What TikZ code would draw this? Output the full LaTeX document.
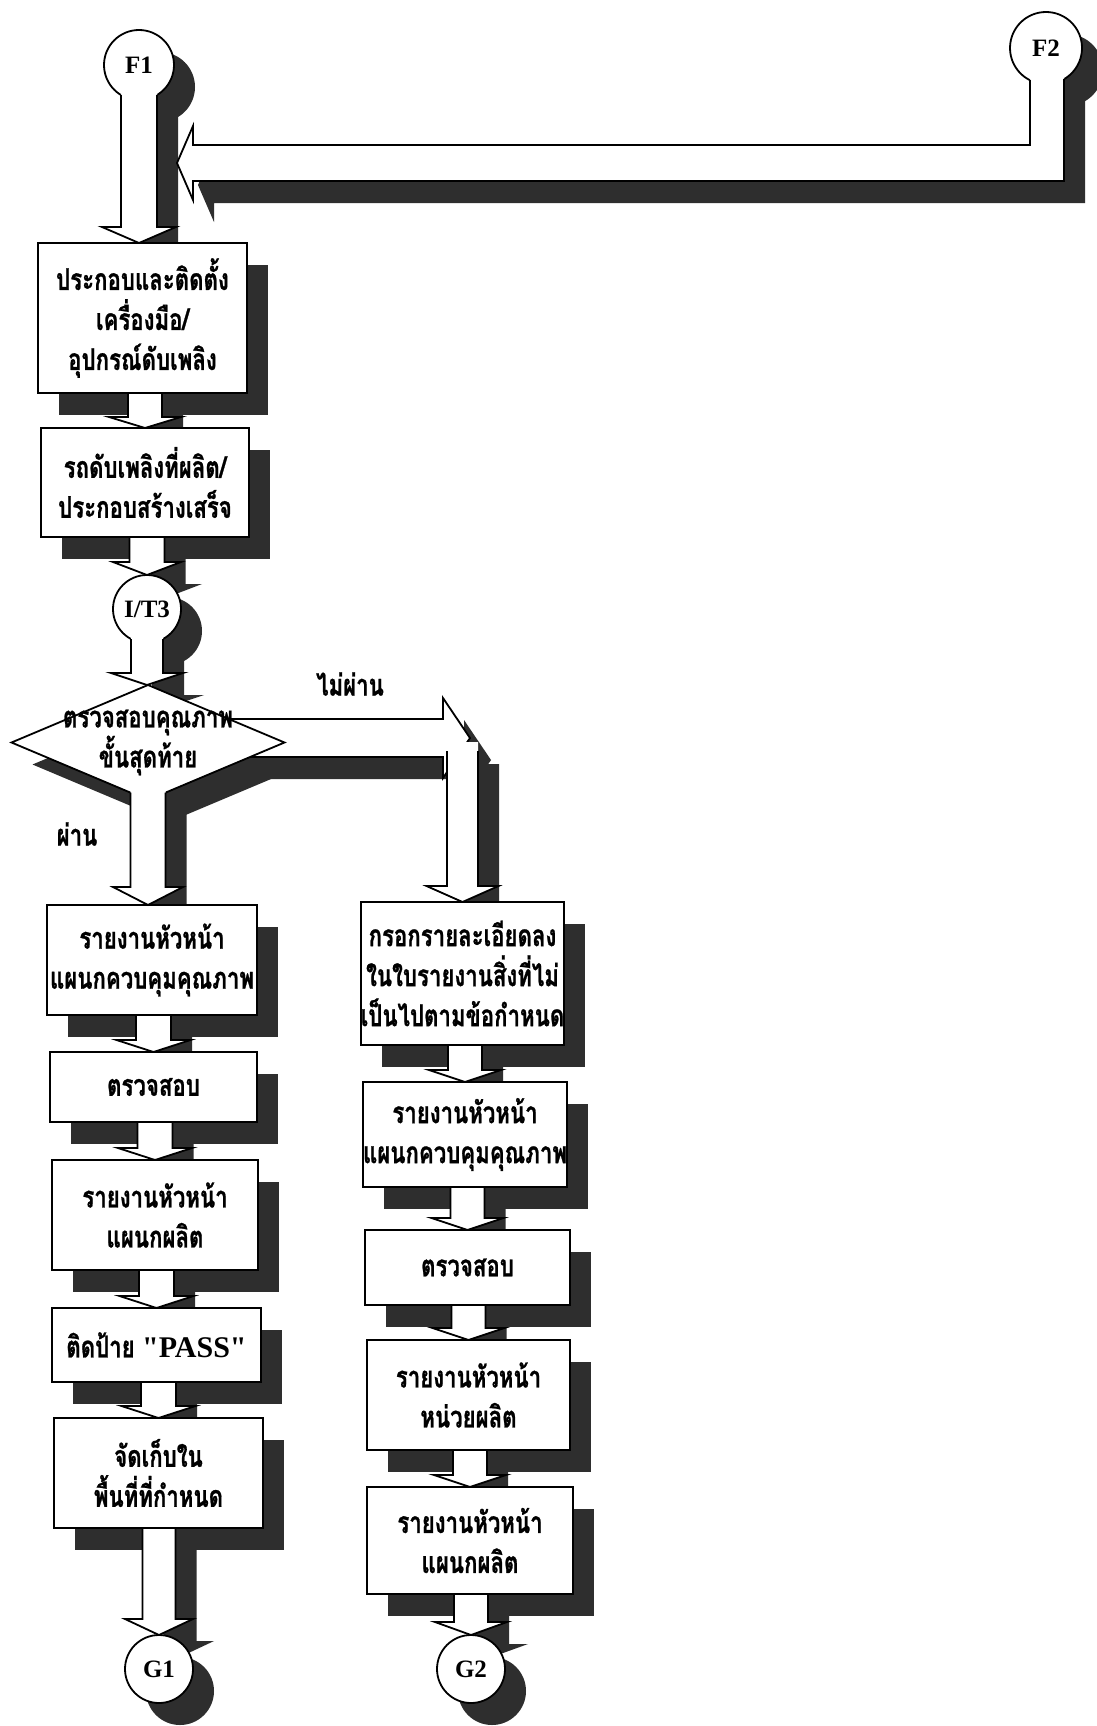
\documentclass[tikz,border=0pt]{standalone}
\usepackage{fontspec}
\usetikzlibrary{shapes.geometric,calc}
\newfontfamily\thaifont[Script=Thai,FakeStretch=0.74,FakeBold=0.8]{Loma}
\newfontfamily\latinfont{Liberation Serif}
\definecolor{shadowc}{RGB}{46,46,46}
\pgfdeclarelayer{shadow}
\pgfdeclarelayer{links}
\pgfdeclarelayer{over}
\pgfsetlayers{shadow,links,main,over}

\tikzset{
  flowline/.style={line width=1.8pt, line join=miter},
  procbox/.style={draw, fill=white, line width=1.8pt, inner sep=0pt, outer sep=0pt,
    align=center, font=\thaifont\bfseries\fontsize{30}{40}\selectfont},
  connector/.style={circle, draw, fill=white, line width=1.8pt, inner sep=0pt, outer sep=0pt,
    minimum size=70pt, font=\latinfont\bfseries\fontsize{25}{28}\selectfont},
  decision/.style={diamond, draw, fill=white, line width=1.8pt, inner sep=0pt, outer sep=0pt,
    minimum width=273pt, minimum height=115pt},
  plaintext/.style={inner sep=0pt, align=center, font=\thaifont\bfseries\fontsize{30}{40}\selectfont},
}

% drop shadow helpers (shadow offset 21 right, 22 down)
\newcommand\shadowfill[1]{%
  \begin{pgfonlayer}{shadow}
    \begin{scope}[transform canvas={shift={(21pt,-22pt)}}]
      \fill[shadowc] #1;
    \end{scope}
  \end{pgfonlayer}}

% process box given by its corners
\newcommand\procbox[6]{%
  \node[procbox, minimum width={#4-#2}, minimum height={#5-#3}] (#1) at ({(#2+#4)/2},{(#3+#5)/2}) {#6};
  \shadowfill{(#1.north west) rectangle (#1.south east)}}

% connector circle
\newcommand\conncircle[4]{%
  \node[connector, minimum size={2*#4}] (#1) at (#2) {#3};
  \shadowfill{(#1.center) circle (#4pt)}}

% outline of a downward block arrow: start, tip, shaft half width, head half width, head length
\newcommand\vpath[5]{let \p1=(#1), \p2=(#2) in
  (\x2-#3pt,\y1) -- (\x2-#3pt,\y2+#5pt) -- (\x2-#4pt,\y2+#5pt) -- (\x2,\y2)
  -- (\x2+#4pt,\y2+#5pt) -- (\x2+#3pt,\y2+#5pt) -- (\x2+#3pt,\y1)}

% downward block arrow: layer, fill start, line start, tip, shaft hw, head hw, head length
\newcommand\vlink[7]{%
  \shadowfill{\vpath{#2}{#4}{#5}{#6}{#7} -- cycle}
  \begin{pgfonlayer}{#1}
    \fill[white] \vpath{#2}{#4}{#5}{#6}{#7} -- cycle;
    \draw[flowline] \vpath{#3}{#4}{#5}{#6}{#7};
  \end{pgfonlayer}}

\begin{document}
\begin{tikzpicture}[x=1pt,y=-1pt]
\useasboundingbox (0,0) rectangle (1097,1726);
\begin{pgfonlayer}{shadow}
  \fill[white] (0,0) rectangle (1097,1726);
\end{pgfonlayer}

% ---------- nodes ----------
\conncircle{F1}{139,65}{F1}{35}
\conncircle{F2}{1046,48}{F2}{36}
\procbox{b1}{38}{243}{247}{393}{ประกอบและติดตั้ง\\เครื่องมือ/\\อุปกรณ์ดับเพลิง}
\procbox{b2}{41}{428}{249}{537}{รถดับเพลิงที่ผลิต/\\ประกอบสร้างเสร็จ}
\conncircle{IT3}{147,609}{I/T3}{34}

\node[decision] (dia) at (148,742.5) {};
\shadowfill{(dia.north) -- (dia.east) -- (dia.south) -- (dia.west) -- cycle}
\node[plaintext] (diatxt) at (dia.center) {ตรวจสอบคุณภาพ\\ขั้นสุดท้าย};

\node[plaintext] (lblno) at (350,684) {ไม่ผ่าน};
\node[plaintext] (lblyes) at (77,834) {ผ่าน};

\procbox{L1}{47}{905}{257}{1015}{รายงานหัวหน้า\\แผนกควบคุมคุณภาพ}
\procbox{L2}{50}{1052}{257}{1122}{ตรวจสอบ}
\procbox{L3}{52}{1160}{258}{1270}{รายงานหัวหน้า\\แผนกผลิต}
\procbox{L4}{52}{1308}{261}{1382}{ติดป้าย {\latinfont "PASS"}}
\procbox{L5}{54}{1418}{263}{1528}{จัดเก็บใน\\พื้นที่ที่กำหนด}
\conncircle{G1}{159,1669}{G1}{34}

\procbox{R1}{362}{902}{563}{1045}{กรอกรายละเอียดลง\\ในใบรายงานสิ่งที่ไม่\\เป็นไปตามข้อกำหนด}
\procbox{R2}{363}{1082}{567}{1187}{รายงานหัวหน้า\\แผนกควบคุมคุณภาพ}
\procbox{R3}{365}{1230}{570}{1305}{ตรวจสอบ}
\procbox{R4}{367}{1340}{570}{1450}{รายงานหัวหน้า\\หน่วยผลิต}
\procbox{R5}{367}{1487}{573}{1594}{รายงานหัวหน้า\\แผนกผลิต}
\conncircle{G2}{471,1669}{G2}{34}

% ---------- connector helper points ----------
\coordinate (F1f) at ([yshift=-24pt]F1.center);
\coordinate (F1l) at ([yshift=-30pt]F1.center);
\coordinate (F1in) at (177,163);
\coordinate (IT3f) at ([yshift=-24pt]IT3.center);
\coordinate (IT3l) at ([yshift=-30pt]IT3.center);
\coordinate (diaf) at ([yshift=12pt]dia.south);
\coordinate (dial) at ([yshift=7.3pt]dia.south);
\coordinate (nopass) at (470,738);
\coordinate (nopassf) at ([yshift=-4pt]nopass);
\coordinate (nopassl) at ([yshift=-13pt]nopass);

% ---------- F2 -> F1 (bent block arrow) ----------
\shadowfill{let \p1=(F2.center), \p2=(F1in) in
  (\x1-16pt,\y1-24pt) -- (\x1-16pt,\y2+18pt) -- (\x2+16pt,\y2+18pt) -- (\x2+16pt,\y2+37pt)
  -- (\p2) -- (\x2+16pt,\y2-37pt) -- (\x2+16pt,\y2-18pt) -- (\x1+18pt,\y2-18pt)
  -- (\x1+18pt,\y1-24pt) -- cycle}
\begin{pgfonlayer}{over}
  \fill[white] let \p1=(F2.center), \p2=(F1in) in
    (\x1-16pt,\y1-24pt) -- (\x1-16pt,\y2+18pt) -- (\x2+16pt,\y2+18pt) -- (\x2+16pt,\y2+37pt)
    -- (\p2) -- (\x2+16pt,\y2-37pt) -- (\x2+16pt,\y2-18pt) -- (\x1+18pt,\y2-18pt)
    -- (\x1+18pt,\y1-24pt) -- cycle;
  \draw[flowline] let \p1=(F2.center), \p2=(F1in) in
    (\x1-16pt,\y1-32pt) -- (\x1-16pt,\y2+18pt) -- (\x2+16pt,\y2+18pt) -- (\x2+16pt,\y2+37pt)
    -- (\p2) -- (\x2+16pt,\y2-37pt) -- (\x2+16pt,\y2-18pt) -- (\x1+18pt,\y2-18pt)
    -- (\x1+18pt,\y1-31pt);
\end{pgfonlayer}

% ---------- main column ----------
\vlink{over}{F1f}{F1l}{F1.center |- b1.north}{18}{37}{16}
\vlink{links}{b1.south}{b1.south}{b2.north}{17}{36}{11}
\vlink{links}{b2.south}{b2.south}{IT3.north}{17.5}{34}{13}
\vlink{over}{IT3f}{IT3l}{IT3.center |- dia.north}{16}{36}{12}

% not passed: right, then down
\shadowfill{let \p1=(dia.center), \p2=(nopass) in
  (\x1,\y2+19pt) -- (\x2-27pt,\y2+19pt) -- (\x2-27pt,\y2+40pt) -- (\p2)
  -- (\x2-27pt,\y2-40pt) -- (\x2-27pt,\y2-19pt) -- (\x1,\y2-19pt) -- cycle}
\begin{pgfonlayer}{links}
  \fill[white] let \p1=(dia.center), \p2=(nopass) in
    (\x1,\y2+19pt) -- (\x2-27pt,\y2+19pt) -- (\x2-27pt,\y2+40pt) -- (\p2)
    -- (\x2-27pt,\y2-40pt) -- (\x2-27pt,\y2-19pt) -- (\x1,\y2-19pt) -- cycle;
  \draw[flowline] let \p1=(dia.center), \p2=(nopass) in
    (\x1,\y2+19pt) -- (\x2-27pt,\y2+19pt) -- (\x2-27pt,\y2+40pt) -- (\p2)
    -- (\x2-27pt,\y2-40pt) -- (\x2-27pt,\y2-19pt) -- (\x1,\y2-19pt);
\end{pgfonlayer}
\vlink{over}{nopassf}{nopassl}{R1.north}{15.5}{36}{16}

% passed: down
\vlink{over}{diaf}{dial}{dia.south |- L1.north}{17.5}{35}{18}

% left column
\vlink{links}{L1.south}{L1.south}{L2.north}{17.5}{37}{12}
\vlink{links}{L2.south}{L2.south}{L3.north}{17.5}{37}{12}
\vlink{links}{L3.south}{L3.south}{L4.north}{17.5}{37}{12}
\vlink{links}{L4.south}{L4.south}{L5.north}{17.5}{37}{12}
\vlink{links}{L5.south}{L5.south}{G1.north}{16.5}{34}{16}

% right column
\vlink{links}{R1.south}{R1.south}{R2.north}{17}{36}{12}
\vlink{links}{R2.south}{R2.south}{R3.north}{17}{36}{12}
\vlink{links}{R3.south}{R3.south}{R4.north}{17}{36}{12}
\vlink{links}{R4.south}{R4.south}{R5.north}{17}{36}{12}
\vlink{links}{R5.south}{R5.south}{G2.north}{17}{36}{13}
\end{tikzpicture}
\end{document}
